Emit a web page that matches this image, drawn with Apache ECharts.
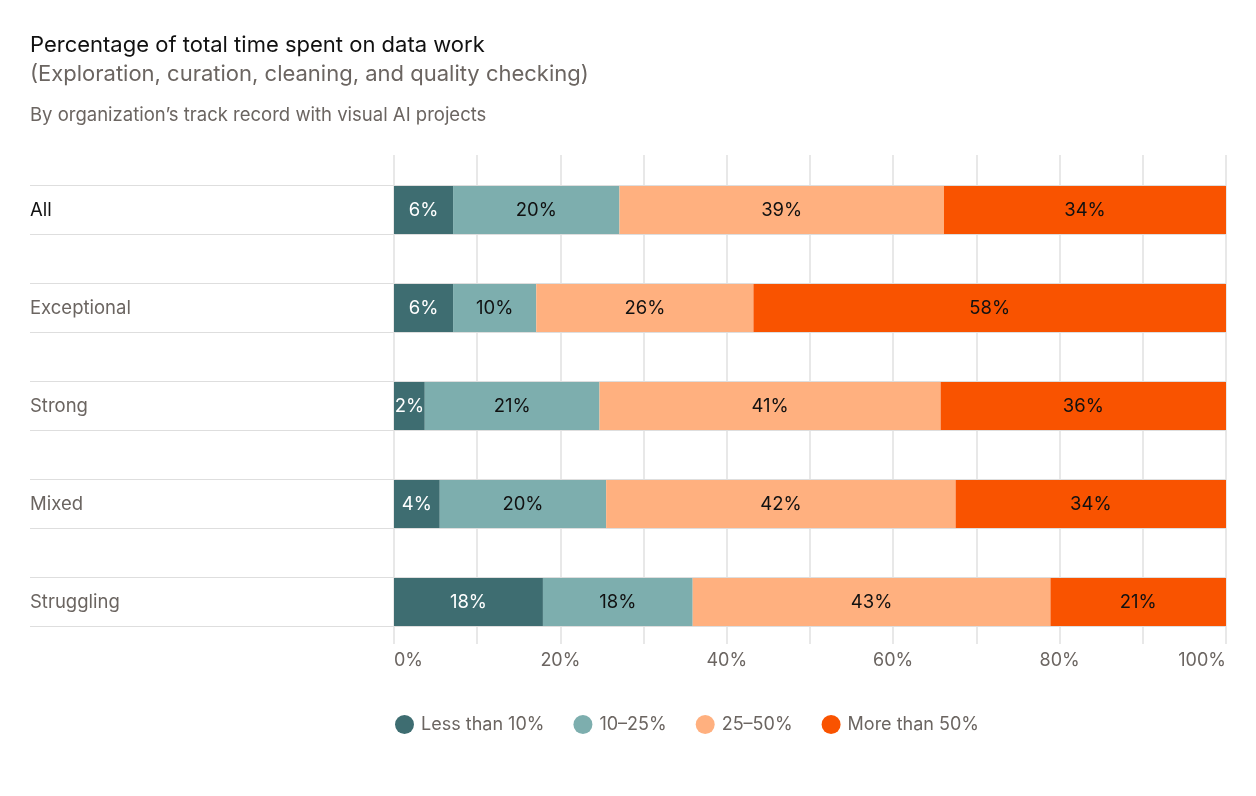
<!DOCTYPE html>
<html>
<head>
<meta charset="utf-8">
<script src="https://cdn.jsdelivr.net/npm/echarts@6/dist/echarts.min.js"></script>
<style>
  html, body { margin: 0; padding: 0; background: #fff; }
  #chart { width: 1256px; height: 796px; }
</style>
</head>
<body>
<div id="chart"></div>
<script>
// rows, top to bottom
const categories = ['All', 'Exceptional', 'Strong', 'Mixed', 'Struggling'];
const seriesNames = ['Less than 10%', '10–25%', '25–50%', 'More than 50%'];

// segment widths (percent of row)
const lessThan10 = [7.1, 7.1, 3.7, 5.5, 17.9];
const from10to25 = [20.0, 10.0, 21.0, 20.0, 18.0];
const from25to50 = [39.0, 26.1, 41.0, 42.0, 43.0];
const moreThan50 = [33.9, 56.8, 34.3, 32.5, 21.1];

// numbers printed on the bars
const lessThan10Labels = [6, 6, 2, 4, 18];
const from10to25Labels = [20, 10, 21, 20, 18];
const from25to50Labels = [39, 26, 41, 42, 43];
const moreThan50Labels = [34, 58, 36, 34, 21];

const xTicks = [0, 20, 40, 60, 80, 100];

const colors = ['#3e6d71', '#7daeae', '#ffb07f', '#f95300'];
const grey = '#6b6561';
const FONT = 'Inter, "Noto Sans", sans-serif';

const chart = echarts.init(document.getElementById('chart'));

function barSeries(name, values, labels, color, textColor) {
  return {
    name: name,
    type: 'bar',
    stack: 'total',
    xAxisIndex: 0,
    yAxisIndex: 0,
    barWidth: 48,
    z: 3,
    itemStyle: { color: color },
    label: {
      show: true,
      position: 'inside',
      color: textColor,
      fontFamily: FONT,
      fontSize: 18.5,
      formatter: (p) => labels[p.dataIndex] + '%'
    },
    emphasis: { disabled: true },
    data: values
  };
}

const option = {
  animation: false,
  title: [
    {
      text: 'Percentage of total time spent on data work',
      left: 30, top: 34, padding: 0,
      textStyle: { fontFamily: FONT, fontSize: 22, fontWeight: 'normal', color: '#111' }
    },
    {
      text: '(Exploration, curation, cleaning, and quality checking)',
      left: 30, top: 63, padding: 0,
      textStyle: { fontFamily: FONT, fontSize: 22, fontWeight: 'normal', color: grey }
    },
    {
      text: 'By organization’s track record with visual AI projects',
      left: 30, top: 106, padding: 0,
      textStyle: { fontFamily: FONT, fontSize: 18.5, fontWeight: 'normal', color: grey }
    }
  ],
  legend: {
    data: seriesNames,
    left: 395,
    top: 715,
    padding: 0,
    icon: 'circle',
    itemWidth: 19,
    itemHeight: 19,
    itemGap: 29,
    selectedMode: false,
    textStyle: { fontFamily: FONT, fontSize: 18, color: grey, padding: [0, 0, 0, 2] }
  },
  grid: [
    // bars
    { left: 394, right: 30, top: 161, height: 490 },
    // vertical guide lines + tick labels
    { left: 394, right: 30, top: 155, height: 489 }
  ],
  xAxis: [
    {
      type: 'value', gridIndex: 0, min: 0, max: 100,
      show: false
    },
    {
      type: 'value', gridIndex: 1, min: xTicks[0], max: xTicks[xTicks.length - 1], interval: 20,
      axisLine: { show: false },
      axisTick: { show: false },
      splitLine: { show: true, lineStyle: { color: '#e8e8e8', width: 2 } },
      minorTick: { show: false, splitNumber: 2 },
      minorSplitLine: { show: true, lineStyle: { color: '#e8e8e8', width: 2 } },
      axisLabel: {
        margin: 8,
        fontFamily: FONT, fontSize: 18, color: grey,
        alignMinLabel: 'left', alignMaxLabel: 'right',
        formatter: '{value}%'
      }
    }
  ],
  yAxis: [
    {
      type: 'category', gridIndex: 0, data: categories, inverse: true,
      axisLine: { show: false },
      axisTick: { show: false },
      axisLabel: {
        align: 'left',
        margin: 364,
        fontFamily: FONT,
        fontSize: 18.5,
        color: (v) => (v === 'All' ? '#111' : grey)
      }
    },
    { type: 'value', gridIndex: 1, show: false }
  ],
  series: [
    {
      // thin rules above and below each row, label column included
      type: 'custom',
      xAxisIndex: 0,
      yAxisIndex: 0,
      z: 1,
      silent: true,
      clip: false,
      data: categories.map((c, i) => [0, i]),
      renderItem: (params, api) => {
        const y = api.coord([0, api.value(1)])[1];
        const cs = params.coordSys;
        const x0 = cs.x - 364;
        const x1 = cs.x + cs.width;
        const style = { stroke: '#dedede', lineWidth: 1 };
        return {
          type: 'group',
          children: [
            { type: 'line', shape: { x1: x0, y1: y - 24.5, x2: x1, y2: y - 24.5 }, style: style },
            { type: 'line', shape: { x1: x0, y1: y + 24.5, x2: x1, y2: y + 24.5 }, style: style }
          ]
        };
      }
    },
    {
      type: 'bar', xAxisIndex: 1, yAxisIndex: 1, data: [], silent: true
    },
    barSeries(seriesNames[0], lessThan10, lessThan10Labels, colors[0], '#fff'),
    barSeries(seriesNames[1], from10to25, from10to25Labels, colors[1], '#111'),
    barSeries(seriesNames[2], from25to50, from25to50Labels, colors[2], '#111'),
    barSeries(seriesNames[3], moreThan50, moreThan50Labels, colors[3], '#111')
  ]
};

chart.setOption(option);
</script>
</body>
</html>
